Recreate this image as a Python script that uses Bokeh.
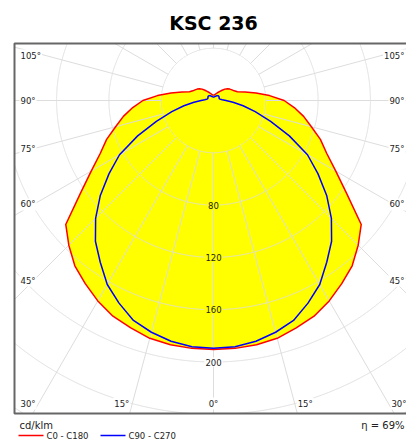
import numpy as np
from bokeh.plotting import figure
from bokeh.models import Range1d
from bokeh.embed import file_html
from bokeh.resources import INLINE
from bokeh.core.properties import value

# ---------------- data ----------------
title_text = "KSC 236"
gamma_deg = list(range(0, 181, 5))
c0_c180 = [190.5, 190.3, 189.7, 188.3, 185.0, 182.0, 177.0, 171.0, 165.0, 156.5,
           147.5, 124.5, 108.0, 95.5, 87.0, 77.5, 70.0, 62.0, 54.0, 43.0,
           33.0, 25.0, 19.5, 17.5, 16.3, 15.2, 14.0, 12.3, 10.2, 8.5,
           7.3, 6.3, 5.5, 4.8, 4.4, 4.2, 4.1]
c90_c270 = [189.5, 189.0, 187.0, 183.5, 179.0, 171.0, 162.5, 151.0, 140.5, 127.5,
            113.0, 97.5, 83.0, 64.0, 46.5, 33.0, 23.0, 15.0, 9.5, 6.8,
            5.4, 4.8, 4.6, 4.7, 4.9, 5.1, 5.2, 5.1, 4.8, 4.4,
            4.0, 3.6, 3.3, 3.0, 2.8, 2.7, 2.7]
ring_values = [40, 80, 120, 160, 200, 240, 280]
ring_labels = [80, 120, 160, 200]
angle_ticks = [0, 15, 30, 45, 60, 75, 90, 105]
grid_angles = list(range(0, 360, 15))
unit_label = "cd/klm"
efficiency_label = "η = 69%"
series_names = ["C0 - C180", "C90 - C270"]
series_colors = ["#ff0000", "#0000ff"]

# ---------------- layout (page pixels) ----------------
S = 1.3075           # px per cd/klm
CX, CY = 213, 100    # pole position on page
OFF = 0
FIG_W, FIG_H = 406, 440
GRID = "#dddddd"
TXT = "#222222"
FONT = value("DejaVu Sans")
TICK_SIZE = "8.5px"


def ux(px):
    return (px - CX) / S


def uy(py):
    return (CY - py) / S


p = figure(width=FIG_W, height=FIG_H, output_backend="svg", toolbar_location=None,
           x_range=Range1d(ux(OFF), ux(OFF + FIG_W)),
           y_range=Range1d(uy(OFF + FIG_H), uy(OFF)),
           x_axis_location=None, y_axis_location=None, min_border=0)
p.grid.visible = False
p.outline_line_color = None
p.background_fill_color = "white"
p.border_fill_color = "white"

FL, FR, FT, FB = ux(14), ux(412), uy(43), uy(413)

g = np.radians(np.array(gamma_deg, dtype=float))


def closed_curve(vals):
    r = np.array(vals, dtype=float)
    xl = -r * np.sin(g)
    yl = -r * np.cos(g)
    xs = np.concatenate([xl, (-xl)[::-1]])
    ys = np.concatenate([yl, yl[::-1]])
    return xs, ys


rx, ry = closed_curve(c0_c180)
bx, by = closed_curve(c90_c270)

# yellow fill
p.patch(rx, ry, fill_color="#ffff00", line_color=None)

# circles clipped to frame
th = np.linspace(0, 2 * np.pi, 2881)
cx_all, cy_all = [], []
for rv in ring_values:
    xs = rv * np.cos(th)
    ys = rv * np.sin(th)
    inside = (xs >= FL) & (xs <= FR) & (ys <= FT) & (ys >= FB)
    xs = np.where(inside, xs, np.nan)
    ys = np.where(inside, ys, np.nan)
    cx_all.extend(list(xs) + [np.nan])
    cy_all.extend(list(ys) + [np.nan])
p.line(cx_all, cy_all, line_color=GRID, line_width=1)

# radial lines from first ring to frame
x0s, y0s, x1s, y1s = [], [], [], []
for a in grid_angles:
    ga = np.radians(a)
    dx, dy = np.sin(ga), -np.cos(ga)
    ts = []
    if dx > 1e-9:
        ts.append(FR / dx)
    if dx < -1e-9:
        ts.append(FL / dx)
    if dy > 1e-9:
        ts.append(FT / dy)
    if dy < -1e-9:
        ts.append(FB / dy)
    t = min(ts)
    r0 = ring_values[0]
    x0s.append(r0 * dx); y0s.append(r0 * dy)
    x1s.append(t * dx); y1s.append(t * dy)
p.segment(x0s, y0s, x1s, y1s, line_color=GRID, line_width=1)

# curves
p.line(rx, ry, line_color=series_colors[0], line_width=1.5)
p.line(bx, by, line_color=series_colors[1], line_width=1.5)

# frame
p.quad(left=[FL], right=[FR], top=[FT], bottom=[FB], fill_color=None,
       line_color="#666666", line_width=2)

# angle labels
side_ref = ux(33)
y_bottom = uy(403)
y_top_clamp = uy(55)
lx, ly, ltxt, lalign = [], [], [], []
for a in angle_ticks:
    ga = np.radians(a)
    lab = f"{a}°"
    if a == 0:
        lx.append(0.0); ly.append(y_bottom); ltxt.append(lab); lalign.append("center")
        continue
    placed = False
    if np.cos(ga) > 1e-9:
        t = -y_bottom / np.cos(ga)
        xb = -t * np.sin(ga)
        if xb >= side_ref:
            lx += [xb - 2 / S, -xb + 2 / S]
            ly += [y_bottom, y_bottom]
            ltxt += [lab, lab]
            lalign += ["right", "left"]
            placed = True
    if not placed:
        t = side_ref / (-np.sin(ga))
        yv = min(-t * np.cos(ga), y_top_clamp)
        lx += [ux(19), ux(405)]
        ly += [yv, yv]
        ltxt += [lab, lab]
        lalign += ["left", "right"]
for al in ["left", "right", "center"]:
    idx = [i for i, v in enumerate(lalign) if v == al]
    p.text([lx[i] for i in idx], [ly[i] for i in idx], text=[ltxt[i] for i in idx],
           text_font=FONT, text_font_size=TICK_SIZE, text_color=TXT,
           text_align=al, text_baseline="middle",
           background_fill_color="white", padding=1)

# ring labels
for rv in ring_labels:
    bg = "#ffff00" if rv < c0_c180[0] else "white"
    p.text([0.0], [-rv], text=[str(rv)], text_font=FONT, text_font_size=TICK_SIZE,
           text_color=TXT, text_align="center", text_baseline="middle",
           background_fill_color=bg, padding=1)

# title
p.text([0.0], [uy(22)], text=[title_text], text_font=FONT, text_font_size="19px",
       text_font_style="bold", text_color="#000000", text_align="center",
       text_baseline="middle")

# unit and efficiency
p.text([ux(19)], [uy(425)], text=[unit_label], text_font=FONT, text_font_size="10px",
       text_color=TXT, text_align="left", text_baseline="middle")
p.text([ux(404)], [uy(425)], text=[efficiency_label], text_font=FONT,
       text_font_size="10px", text_color=TXT, text_align="right", text_baseline="middle")

# legend
leg_y = uy(435)
leg_x = [18, 100]
for i, name in enumerate(series_names):
    x0 = leg_x[i]
    p.line([ux(x0), ux(x0 + 25)], [leg_y, leg_y], line_color=series_colors[i], line_width=1.5)
    p.text([ux(x0 + 28)], [uy(435)], text=[name], text_font=FONT, text_font_size="8.5px",
           text_color=TXT, text_align="left", text_baseline="middle")

open("out.html", "w").write(file_html(p, INLINE))
